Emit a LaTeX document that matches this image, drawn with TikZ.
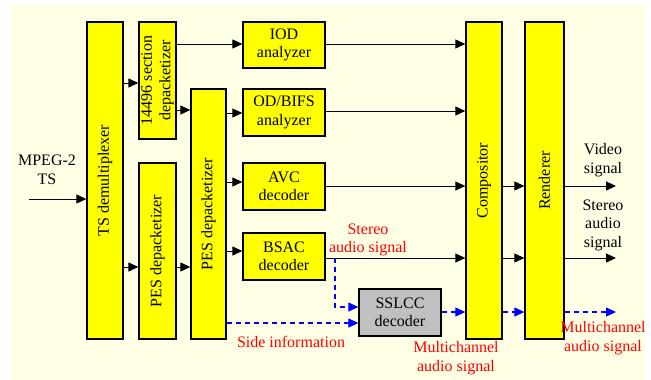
\documentclass[tikz,border=0pt]{standalone}
\usepackage{fontspec}
\setmainfont{Liberation Serif}
\usetikzlibrary{arrows.meta}
\definecolor{cream}{HTML}{FFFFE6}
\definecolor{boxyellow}{HTML}{FFFF00}
\definecolor{boxgray}{HTML}{C0C0C0}
\definecolor{dblue}{HTML}{0000FF}
\begin{document}
\begin{tikzpicture}[x=1pt,y=-1pt,
  blk/.style={draw=black,line width=1.3pt,inner sep=0pt},
  ybox/.style={blk,fill=boxyellow},
  gbox/.style={blk,fill=boxgray},
  txt/.style={font=\fontsize{16}{18.5}\selectfont,align=center,inner sep=0pt},
  rtxt/.style={txt,rotate=90},
  redtxt/.style={txt,text=red},
  arr/.style={line width=1pt,-{Triangle[length=10pt,width=9pt]}},
  darr/.style={line width=1.1pt,draw=dblue,dash pattern=on 5pt off 4pt,-{Triangle[length=10pt,width=9pt,fill=dblue]}}]
\useasboundingbox (0,0) rectangle (651,380);
\fill[cream] (12,4) rectangle (645,380);

% boxes
\node[ybox,minimum width=36pt,minimum height=317pt] (ts) at (105,180.5) {};
\node[ybox,minimum width=37pt,minimum height=117pt] (sec) at (157.5,80.5) {};
\node[ybox,minimum width=37pt,minimum height=176pt] (pesl) at (157.5,251) {};
\node[ybox,minimum width=35pt,minimum height=250pt] (pesr) at (208.5,214) {};
\node[ybox,minimum width=82pt,minimum height=46pt] (iod) at (284,45) {};
\node[ybox,minimum width=82pt,minimum height=47pt] (od) at (284,112.5) {};
\node[ybox,minimum width=82pt,minimum height=47pt] (avc) at (284,186.5) {};
\node[ybox,minimum width=82pt,minimum height=47pt] (bsac) at (284,256.5) {};
\node[gbox,minimum width=82pt,minimum height=47pt] (sslcc) at (400,312.5) {};
\node[ybox,minimum width=36pt,minimum height=317pt] (comp) at (484,180.5) {};
\node[ybox,minimum width=39pt,minimum height=317pt] (rend) at (544.5,180.5) {};

% box texts
\node[rtxt] (tsl) at (ts.center) {TS demultiplexer};
\node[rtxt] (secl) at (sec.center) {14496 section\\depacketizer};
\node[rtxt] (pesll) at (pesl.center) {PES depacketizer};
\node[rtxt] (pesrl) at (pesr.center) {PES depacketizer};
\node[txt] (iodl) at (iod.center) {IOD\\analyzer};
\node[txt] (odl) at (od.center) {OD/BIFS\\analyzer};
\node[txt] (avcl) at (avc.center) {AVC\\decoder};
\node[txt] (bsacl) at (bsac.center) {BSAC\\decoder};
\node[txt] (sslccl) at (sslcc.center) {SSLCC\\decoder};
\node[rtxt] (compl) at (comp.center) {Compositor};
\node[rtxt] (rendl) at (rend.center) {Renderer};

% free ends
\coordinate (in) at (29,199);
\coordinate (o1) at (616,186);
\coordinate (o2) at (616,258);
\coordinate (o3) at (616,312);
\coordinate (bend) at (335,307);

% labels
\node[txt] (mpeg) at (47,170) {MPEG-2\\TS};
\node[redtxt] (stl) at (368,240) {Stereo\\audio signal};
\node[redtxt] (side) at (291,342) {Side information};
\node[redtxt] (mc1) at (456,358) {Multichannel\\audio signal};
\node[txt] (vid) at (603,160) {Video\\signal};
\node[txt] (sas) at (603,225) {Stereo\\audio\\signal};
\node[redtxt] (mc2) at (603,338) {Multichannel\\audio signal};

% connectors
\draw[arr] (in) -- (ts.west |- in);
\draw[arr] (ts.east |- 0,83) -- (sec.west |- 0,83);
\draw[arr] (ts.east |- 0,267) -- (pesl.west |- 0,267);
\draw[arr] (pesl.east |- 0,267) -- (pesr.west |- 0,267);
\draw[arr] (sec.east |- 0,110) -- (pesr.west |- 0,110);
\draw[arr] (sec.east |- 0,44) -- (iod.west |- 0,44);
\draw[arr] (pesr.east |- 0,113) -- (od.west |- 0,113);
\draw[arr] (pesr.east |- 0,182) -- (avc.west |- 0,182);
\draw[arr] (pesr.east |- 0,251) -- (bsac.west |- 0,251);
\draw[arr] (iod.east |- 0,44) -- (comp.west |- 0,44);
\draw[arr] (od.east |- 0,111) -- (comp.west |- 0,111);
\draw[arr] (avc.east |- 0,186) -- (comp.west |- 0,186);
\draw[arr] (bsac.east |- 0,258) -- (comp.west |- 0,258);
\draw[arr] (comp.east |- 0,186) -- (rend.west |- 0,186);
\draw[arr] (comp.east |- 0,258) -- (rend.west |- 0,258);
\draw[arr] (rend.east |- o1) -- (o1);
\draw[arr] (rend.east |- o2) -- (o2);
\draw[darr] (bend |- 0,258) -- (bend) -- (sslcc.west |- bend);
\draw[darr] (pesr.east |- 0,323) -- (sslcc.west |- 0,323);
\draw[darr] (sslcc.east |- 0,312) -- (comp.west |- 0,312);
\draw[darr] (comp.east |- 0,312) -- (rend.west |- 0,312);
\draw[darr] (rend.east |- o3) -- (o3);
\end{tikzpicture}
\end{document}
